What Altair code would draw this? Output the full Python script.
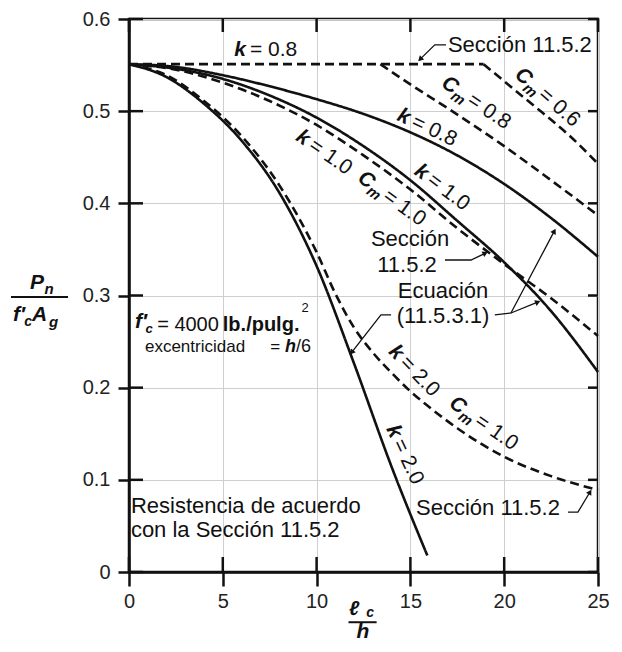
import math
import altair as alt
import pandas as pd

W, H = 469, 553
FONT = "Liberation Sans"
INK = "#111111"

# ---------------- curve data ----------------
x_k08 = [0, 2.5, 5, 7.5, 10, 12.5, 15, 17.5, 20, 22.5, 25]
y_k08_eq = [0.551, 0.548, 0.539, 0.527, 0.513, 0.497, 0.477, 0.452, 0.421, 0.384, 0.342]

x_k10 = [0, 2.5, 5, 7.5, 10, 12.5, 15, 17.5, 20, 22.5, 25]
y_k10_eq = [0.551, 0.546, 0.535, 0.517, 0.493, 0.462, 0.425, 0.381, 0.336, 0.283, 0.217]
y_k10_sec = [0.551, 0.545, 0.531, 0.511, 0.485, 0.452, 0.415, 0.373, 0.334, 0.297, 0.256]

x_k20_eq = [0, 2, 4, 6, 8, 10, 12, 14, 15.9]
y_k20_eq = [0.551, 0.537, 0.508, 0.468, 0.412, 0.332, 0.226, 0.114, 0.018]

x_k20_sec = [0, 2, 4, 6, 8, 10, 11, 12, 13, 14, 15, 16, 17.5, 20, 22.5, 25]
y_k20_sec = [0.551, 0.539, 0.511, 0.473, 0.420, 0.347, 0.302, 0.265, 0.238, 0.216,
             0.196, 0.179, 0.156, 0.125, 0.104, 0.089]

x_sec_flat = [0, 18.9]
y_sec_flat = [0.551, 0.551]

x_cm06 = [18.9, 20.5, 22, 23.5, 25]
y_cm06 = [0.551, 0.524, 0.499, 0.473, 0.443]

x_cm08 = [13.4, 15, 17, 20, 22.5, 25]
y_cm08 = [0.551, 0.529, 0.503, 0.462, 0.425, 0.387]

curves = [
    ("k08_eq", "solid", x_k08, y_k08_eq),
    ("k10_eq", "solid", x_k10, y_k10_eq),
    ("k10_sec", "dashed", x_k10, y_k10_sec),
    ("k20_eq", "solid", x_k20_eq, y_k20_eq),
    ("k20_sec", "dashed", x_k20_sec, y_k20_sec),
    ("sec_flat", "dashed", x_sec_flat, y_sec_flat),
    ("cm06", "dashed", x_cm06, y_cm06),
    ("cm08", "dashed", x_cm08, y_cm08),
]

x_ticks = [0, 5, 10, 15, 20, 25]
y_ticks = [0, 0.1, 0.2, 0.3, 0.4, 0.5, 0.6]

# rotated curve labels: symbol, subscript, value, x, y, angle
lab_sym = ["k", "C", "C", "k", "k", "k", "C", "k", "C", "k"]
lab_sub = ["", "m", "m", "", "", "", "m", "", "m", ""]
lab_val = ["0.8", "0.6", "0.8", "0.8", "1.0", "1.0", "1.0", "2.0", "1.0", "2.0"]
lab_x = [7.3, 22.3, 18.5, 15.9, 16.7, 10.4, 14.0, 15.2, 18.9, 14.7]
lab_y = [0.566, 0.515, 0.509, 0.482, 0.417, 0.455, 0.405, 0.218, 0.161, 0.127]
lab_ang = [0, 41, 34, 25, 37, 35, 36, 46, 35, 65]

# plain texts: text, x, y, align, size, bold
txt_text = ["Sección 11.5.2", "Sección", "11.5.2", "Ecuación", "(11.5.3.1)",
            "Resistencia de acuerdo", "con la Sección 11.5.2", "Sección 11.5.2",
            "excentricidad", "=", "/6", "= 4000", "lb./pulg.", "2"]
txt_x = [17.0, 14.98, 14.82, 16.74, 16.74, 0.1, 0.1, 15.3, 0.85, 7.8, 8.9, 1.5, 5.0, 9.2]
txt_y = [0.572, 0.3615, 0.3335, 0.305, 0.278, 0.0716, 0.0456, 0.069, 0.2445, 0.2445, 0.2445,
         0.2685, 0.2685, 0.2865]
txt_align = ["left", "center", "center", "center", "center", "left", "left", "left",
             "left", "center", "left", "left", "left", "left"]
txt_size = [22, 22, 22, 22, 22, 22, 22, 22, 17, 17, 18, 20, 20, 13]
txt_bold = [False] * 12 + [True, False]

# bold italic symbols: text, x, y, size, align
sym_text = ["f′", "c", "h", "P", "n", "f′", "c", "A", "g", "ℓ", "c", "h"]
sym_x = [0.32, 1.07, 8.32, -4.90, -4.26, -5.86, -5.38, -4.77, -4.02, 12.0, 12.86, 12.47]
sym_y = [0.2715, 0.2635, 0.2445, 0.3135, 0.307, 0.279, 0.271, 0.279, 0.271, -0.040, -0.0445, -0.065]
sym_size = [21, 13, 18, 21, 15, 21, 14, 21, 15, 20, 14, 21]
sym_align = ["left", "center", "left", "center", "center", "center", "center", "center",
             "center", "center", "center", "center"]

# fraction bars of the axis titles
bar_x1 = [-6.29, 11.7]
bar_x2 = [-3.25, 13.2]
bar_y = [0.2984, -0.0545]

# leader lines (polyline per id); last point gets an arrow head
leaders = {
    "a": ([16.9, 16.3, 15.55], [0.572, 0.572, 0.557]),
    "b": ([16.84, 18.23, 18.95], [0.3385, 0.3385, 0.3455]),
    "c": ([19.5, 20.36, 22.65], [0.279, 0.281, 0.369]),
    "d": ([20.36, 21.75], [0.281, 0.2925]),
    "e": ([23.4, 23.93, 24.55], [0.065, 0.065, 0.086]),
    "f": ([13.97, 13.43, 11.9], [0.279, 0.279, 0.239]),
}

# ---------------- build tables ----------------
rows = []
for name, style, xs, ys in curves:
    for xv, yv in zip(xs, ys):
        rows.append({"curve": name, "style": style, "x": xv, "y": yv})
df = pd.DataFrame(rows)

xs_ = alt.Scale(domain=[0, 25], nice=False, zero=False)
ys_ = alt.Scale(domain=[0, 0.6], nice=False, zero=False)
x_axis = alt.Axis(
    values=x_ticks, title=None, labelFont=FONT, labelFontSize=20, labelColor="#222",
    tickSize=14, tickWidth=2.5, tickColor=INK, domainColor=INK, domainWidth=2.5,
    grid=True, gridColor="#cfcfcf", gridWidth=1, labelPadding=5, labelFlush=False)
y_axis = alt.Axis(
    values=y_ticks, title=None, labelFont=FONT, labelFontSize=20, labelColor="#222",
    labelExpr="datum.value == 0 ? '0' : format(datum.value, '.1f')",
    tickSize=11, tickWidth=2.5, tickColor=INK, domainColor=INK, domainWidth=2.5,
    grid=True, gridColor="#cfcfcf", gridWidth=1, labelPadding=8)
X = alt.X("x:Q", scale=xs_, axis=x_axis)
Y = alt.Y("y:Q", scale=ys_, axis=y_axis)

lines = alt.Chart(df).mark_line(color=INK, strokeWidth=2.6, interpolate="monotone").encode(
    x=X, y=Y,
    detail="curve:N",
    strokeDash=alt.StrokeDash("style:N", scale=alt.Scale(domain=["solid", "dashed"],
                                                         range=[[1, 0], [9, 5]]), legend=None),
)

# inward ticks
dfx = pd.DataFrame({"x": x_ticks})
dfy = pd.DataFrame({"y": y_ticks})
tick_bottom = alt.Chart(dfx).mark_rule(color=INK, strokeWidth=2.5).encode(
    x=X, y=alt.value(H), y2=alt.value(H - 15))
tick_top = alt.Chart(dfx).mark_rule(color=INK, strokeWidth=2.5).encode(
    x=X, y=alt.value(0), y2=alt.value(13))
tick_left = alt.Chart(dfy).mark_rule(color=INK, strokeWidth=2.5).encode(
    y=Y, x=alt.value(0), x2=alt.value(14))
tick_right = alt.Chart(dfy).mark_rule(color=INK, strokeWidth=2.5).encode(
    y=Y, x=alt.value(W), x2=alt.value(W - 10))

# rotated labels
labdf = pd.DataFrame({"sym": lab_sym, "sub": lab_sub, "val": ["= " + v for v in lab_val],
                      "x": lab_x, "y": lab_y, "ang": lab_ang})
kdf = labdf[labdf["sym"] == "k"]
cdf = labdf[labdf["sym"] == "C"]


def rtext(data, field, **kw):
    return alt.Chart(data).mark_text(font=FONT, baseline="middle", color=INK, **kw).encode(
        x=X, y=Y, text=f"{field}:N", angle=alt.Angle("ang:Q", scale=None))


BI = dict(fontStyle="italic", fontWeight="bold")
lab_layers = [
    rtext(kdf, "sym", align="right", dx=-20, fontSize=21, **BI),
    rtext(kdf, "val", align="left", dx=-16, fontSize=21),
    rtext(cdf, "sym", align="right", dx=-24, fontSize=21, **BI),
    rtext(cdf, "sub", align="right", dx=-11, dy=6, fontSize=15, **BI),
    rtext(cdf, "val", align="left", dx=-8, fontSize=21),
]

# plain text
tdf = pd.DataFrame({"t": txt_text, "x": txt_x, "y": txt_y, "align": txt_align,
                    "size": txt_size, "bold": txt_bold})
txt_layers = []
for al in ["left", "center"]:
    for b in [False, True]:
        sub = tdf[(tdf["align"] == al) & (tdf["bold"] == b)]
        if len(sub) == 0:
            continue
        txt_layers.append(
            alt.Chart(sub).mark_text(font=FONT, baseline="middle", align=al, color=INK,
                                     fontWeight="bold" if b else "normal").encode(
                x=X, y=Y, text="t:N", size=alt.Size("size:Q", scale=None)))

sdf = pd.DataFrame({"t": sym_text, "x": sym_x, "y": sym_y, "size": sym_size, "align": sym_align})
for al in ["left", "center"]:
    sub = sdf[sdf["align"] == al]
    txt_layers.append(
        alt.Chart(sub).mark_text(font=FONT, baseline="middle", align=al, color=INK, **BI).encode(
            x=X, y=Y, text="t:N", size=alt.Size("size:Q", scale=None)))

bars = alt.Chart(pd.DataFrame({"x": bar_x1, "x2": bar_x2, "y": bar_y})).mark_rule(
    color=INK, strokeWidth=2).encode(x=X, x2="x2:Q", y=Y)

# leaders + arrow heads
lrows, arows = [], []
for key, (lx, ly) in leaders.items():
    for i, (a, b) in enumerate(zip(lx, ly)):
        lrows.append({"id": key, "i": i, "x": a, "y": b})
    dxp = (lx[-1] - lx[-2]) * W / 25.0
    dyp = -(ly[-1] - ly[-2]) * H / 0.6
    ang = math.degrees(math.atan2(dxp, -dyp)) % 360
    arows.append({"x": lx[-1], "y": ly[-1], "a": ang})

lead = alt.Chart(pd.DataFrame(lrows)).mark_line(color=INK, strokeWidth=1.3).encode(
    x=X, y=Y, detail="id:N", order="i:Q")
heads = alt.Chart(pd.DataFrame(arows)).mark_point(
    shape="triangle", filled=True, size=38, color=INK, opacity=1).encode(
    x=X, y=Y, angle=alt.Angle("a:Q", scale=None))

chart = alt.layer(
    lines, tick_bottom, tick_top, tick_left, tick_right, bars, lead, heads,
    *lab_layers, *txt_layers
).properties(
    width=W, height=H,
    autosize=alt.AutoSizeParams(type="none"),
    padding={"left": 121, "top": 11, "right": 15, "bottom": 71},
    background="white",
).configure_view(stroke=INK, strokeWidth=2.5)

chart.save("out.html", embed_options={"renderer": "svg", "actions": False})
